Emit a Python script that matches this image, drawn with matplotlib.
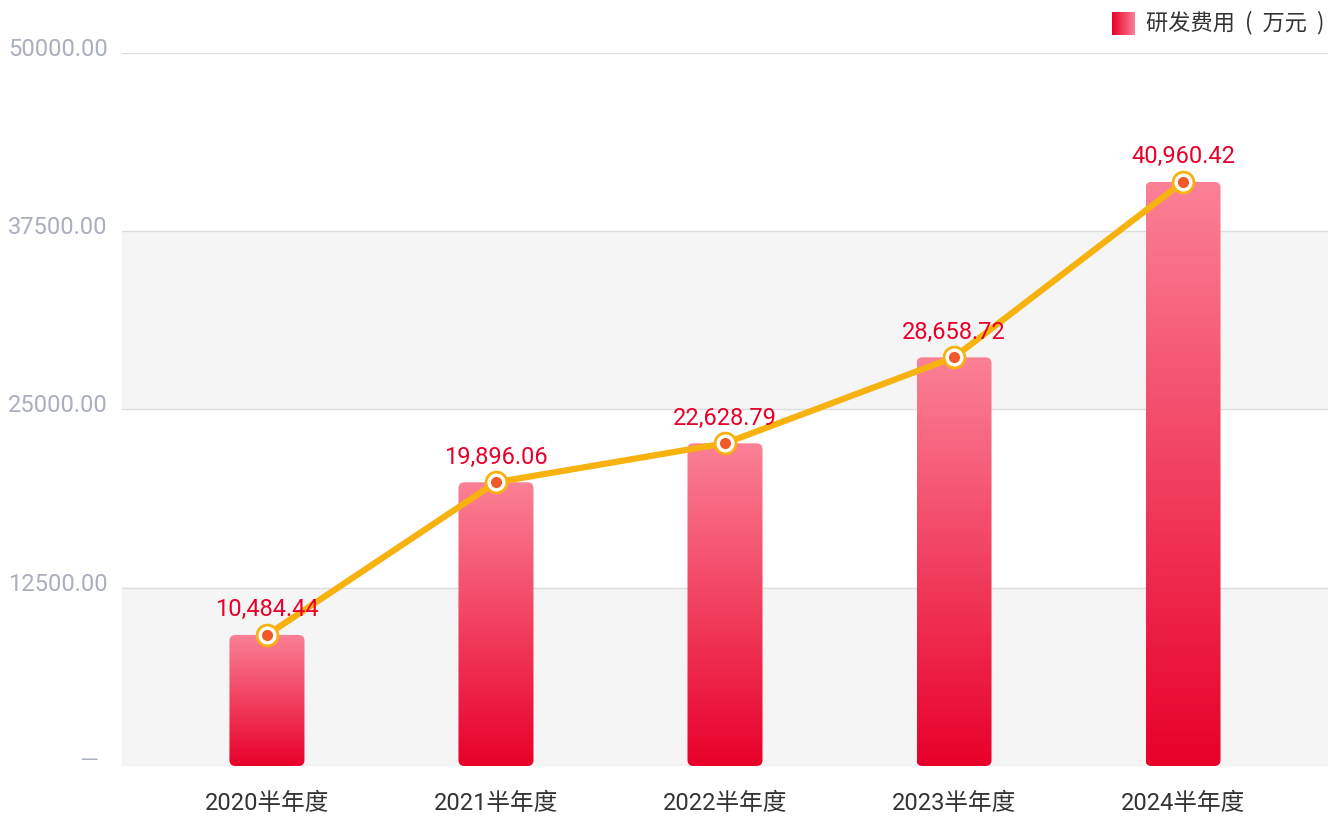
import numpy as np
import matplotlib
matplotlib.use("Agg")
from matplotlib import pyplot as plt
from matplotlib import transforms
from matplotlib.patches import FancyBboxPatch
from matplotlib.colors import to_rgb

plt.rcParams['font.family'] = ['Roboto', 'Noto Sans CJK SC', 'DejaVu Sans']

categories = ['2020半年度', '2021半年度', '2022半年度', '2023半年度', '2024半年度']
# heights as drawn in the picture (first bar is drawn lower than its label)
values = [9190, 19896.06, 22628.79, 28658.72, 40960.42]
value_labels = ['10,484.44', '19,896.06', '22,628.79', '28,658.72', '40,960.42']
y_ticks = [12500, 25000, 37500, 50000]
y_tick_labels = ['12500.00', '25000.00', '37500.00', '50000.00']
legend_label = '研发费用  (  万元  )'

W, H = 1333, 817
fig = plt.figure(figsize=(W / 100, H / 100), dpi=100)
ax = fig.add_axes([122 / W, 51 / H, 1206 / W, 713 / H])

x = np.arange(len(categories))
ax.set_xlim(-0.633, 4.633)
ax.set_ylim(0, 50000)
for s in ax.spines.values():
    s.set_visible(False)
ax.set_xticks([])
ax.set_yticks([])

# background bands + grid
ax.axhspan(0, 12500, color='#f5f5f5', zorder=0)
ax.axhspan(25000, 37500, color='#f5f5f5', zorder=0)
for yv in [0] + y_ticks:
    ax.axhline(yv, color='#dddddd', lw=1, zorder=1)

# gradient bars with rounded corners
bar_w = 0.3275
x_per_px = (4.633 + 0.633) / 1206
y_per_px = 50000 / 713
r_px = 6
top_c = np.array(to_rgb('#fb8196'))
bot_c = np.array(to_rgb('#e8002a'))
grad = np.linspace(0, 1, 256)[:, None, None]
img = top_c * (1 - grad) + bot_c * grad
for xi, v in zip(x, values):
    x0 = xi - bar_w / 2
    patch = FancyBboxPatch((x0, 0), bar_w, v,
                           boxstyle='round,pad=0,rounding_size=%f' % (r_px * x_per_px),
                           mutation_aspect=y_per_px / x_per_px,
                           fc='none', ec='none', transform=ax.transData)
    ax.add_patch(patch)
    im = ax.imshow(img, extent=[x0, x0 + bar_w, 0, v], aspect='auto',
                   origin='upper', zorder=2)
    im.set_clip_path(patch)
ax.set_xlim(-0.633, 4.633)
ax.set_ylim(0, 50000)

# line with markers
ax.plot(x, values, color='#f7b20f', lw=4.5, zorder=3, solid_capstyle='round')
ax.plot(x, values, 'o', ms=15, mfc='white', mec='#f7b20f', mew=2, zorder=4)
ax.plot(x, values, 'o', ms=8, mfc='#f05a28', mec='none', zorder=5)

for xi, v, lab in zip(x, values, value_labels):
    ax.annotate(lab, (xi, v), xytext=(0, 13.5), textcoords='offset points',
                ha='center', va='baseline', fontsize=17,
                color='#e8002a', zorder=6)

# y tick labels
ytr = transforms.blended_transform_factory(fig.transFigure, ax.transData)
for yv, lab in zip(y_ticks, y_tick_labels):
    t = transforms.offset_copy(ytr, fig=fig, x=0, y=-3, units='dots')
    ax.text(8 / W, yv, lab, transform=t, ha='left', va='baseline',
            fontsize=17, color='#a9afbf', clip_on=False)
t0 = transforms.offset_copy(ytr, fig=fig, x=0, y=6, units='dots')
ax.text(80 / W, 0, '—', transform=t0, ha='left', va='center',
        fontsize=14, color='#a9afbf', family='Noto Sans CJK SC', clip_on=False)

# x labels
xtr = transforms.blended_transform_factory(ax.transData, fig.transFigure)
for xi, lab in zip(x, categories):
    ax.text(xi, 1 - 803 / H, lab, transform=xtr, ha='center', va='center',
            fontsize=17, color='#333333', clip_on=False)

# legend
lax = fig.add_axes([1112 / W, 1 - 35 / H, 23 / W, 23 / H])
lg = np.linspace(0, 1, 64)[None, :, None]
limg = np.array(to_rgb('#e8002a')) * (1 - lg) + np.array(to_rgb('#fb8196')) * lg
lax.imshow(limg, aspect='auto')
lax.axis('off')
fig.text(1146 / W, 1 - 23 / H, legend_label, ha='left', va='center',
         fontsize=16, color='#333333', family='Noto Sans CJK SC')

fig.savefig('out.png', dpi=100)
